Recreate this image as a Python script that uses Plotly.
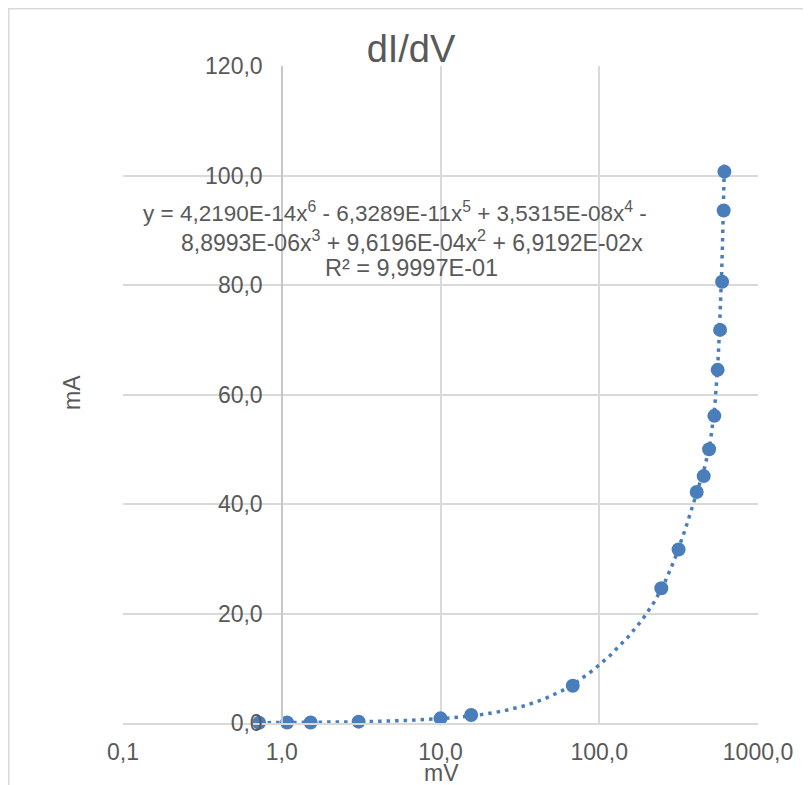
import numpy as np
import plotly.graph_objects as go

# Data (mV, mA)
voltage_mv = [0.72, 1.08, 1.52, 3.05, 10.0, 15.6, 68.1, 246, 316, 411, 455, 492, 531, 557, 577, 594, 608, 614]
current_ma = [0.05, 0.1, 0.1, 0.25, 0.85, 1.45, 6.8, 24.6, 31.7, 42.2, 45.1, 50.0, 56.1, 64.5, 71.8, 80.6, 93.6, 100.7]

# Trendline coefficients as displayed (x^6 ... x^1, intercept 0)
trend_coeffs = [4.2190e-14, -6.3289e-11, 3.5315e-08, -8.8993e-06, 9.6196e-04, 6.9192e-02, 0.0]

x_tickvals = [0.1, 1, 10, 100, 1000]
x_ticktext = ["0,1", "1,0", "10,0", "100,0", "1000,0"]
y_tickvals = [0, 20, 40, 60, 80, 100, 120]
y_ticktext = ["0,0", "20,0", "40,0", "60,0", "80,0", "100,0", "120,0"]

eq_lines = [
    "y = 4,2190E-14x<sup>6</sup> - 6,3289E-11x<sup>5</sup> + 3,5315E-08x<sup>4</sup> -",
    "8,8993E-06x<sup>3</sup> + 9,6196E-04x<sup>2</sup> + 6,9192E-02x",
    "R² = 9,9997E-01",
]

OFF = 8  # page offset of the figure (body margin)
W, H = 811 - OFF, 785 - OFF
# plot area in page pixels: x 123..758, y 66..723
L, R, T, B = 123 - OFF, W - (758 - OFF), 66 - OFF, H - (723 - OFF)
PW, PH = W - L - R, H - T - B

def px_x(px):
    return (px - OFF - L) / PW

def px_y(py):
    return (H - B - (py - OFF)) / PH

blue = "#4a7ebb"
grey_text = "#595959"
grid = "#d9d9d9"
font_family = "Liberation Sans, Arial, sans-serif"

xt = np.geomspace(min(voltage_mv), max(voltage_mv), 500)
yt = np.polyval(trend_coeffs, xt)

fig = go.Figure()
fig.add_trace(go.Scatter(
    x=xt, y=yt, mode="lines",
    line=dict(color=blue, width=3.5, dash="3.5px,5px"),
    hoverinfo="skip", showlegend=False, cliponaxis=False,
))
fig.add_trace(go.Scatter(
    x=voltage_mv, y=current_ma, mode="markers",
    marker=dict(color=blue, size=14),
    showlegend=False, cliponaxis=False,
))

eq_pos = [(395, 212, 22.5), (412, 241, 23), (411, 268, 23.5)]
annotations = [
    dict(text=t, xref="paper", yref="paper", x=px_x(cx), y=px_y(cy),
         xanchor="center", yanchor="middle", align="center", showarrow=False,
         font=dict(size=fs, color=grey_text, family=font_family))
    for t, (cx, cy, fs) in zip(eq_lines, eq_pos)
]
annotations += [
    dict(text="mA", xref="paper", yref="paper", x=px_x(72), y=px_y(393),
         xanchor="center", yanchor="middle", textangle=-90, showarrow=False,
         font=dict(size=23, color=grey_text, family=font_family)),
    dict(text="mV", xref="paper", yref="paper", x=px_x(441), y=px_y(773),
         xanchor="center", yanchor="middle", showarrow=False,
         font=dict(size=23, color=grey_text, family=font_family)),
]

fig.update_layout(
    width=W, height=H,
    margin=dict(l=L, r=R, t=T, b=B),
    paper_bgcolor="white", plot_bgcolor="white",
    font=dict(family=font_family, color=grey_text, size=23),
    title=dict(text="dI/dV", x=(411 - OFF) / W, xanchor="center",
               y=1 - (49 - OFF) / H, yanchor="middle",
               font=dict(size=38, color=grey_text, family=font_family)),
    xaxis=dict(type="log", range=[-1, 3], tickvals=x_tickvals, ticktext=x_ticktext,
               showgrid=True, gridcolor=grid, gridwidth=1.5,
               showline=True, linecolor=grid, linewidth=1.5,
               ticks="", ticklabelstandoff=8, zeroline=False,
               tickfont=dict(size=23, color=grey_text)),
    yaxis=dict(range=[0, 120], tickvals=y_tickvals, ticktext=y_ticktext,
               anchor="free", position=px_x(282),
               showgrid=True, gridcolor=grid, gridwidth=1.5,
               showline=True, linecolor="#c8c8c8", linewidth=1.5,
               ticks="", ticklabelstandoff=14, zeroline=False,
               tickfont=dict(size=23, color=grey_text)),
    annotations=annotations,
    shapes=[
        dict(type="rect", xref="paper", yref="paper",
             x0=px_x(8.8), x1=px_x(810), y0=px_y(800), y1=px_y(8.8),
             line=dict(color=grid, width=1.5), layer="below"),
    ],
)

fig.write_html("out.html")
